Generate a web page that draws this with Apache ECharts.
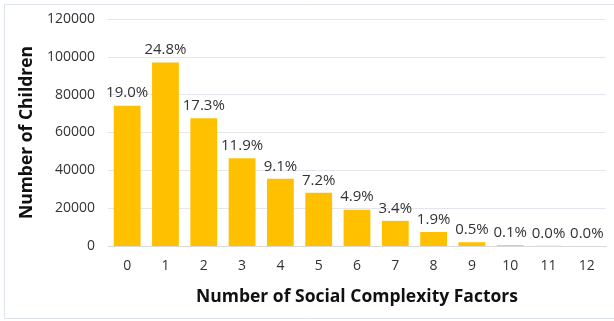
<!DOCTYPE html>
<html>
<head>
<meta charset="utf-8">
<script src="https://cdn.jsdelivr.net/npm/echarts@6/dist/echarts.min.js"></script>
<style>
  html, body { margin: 0; padding: 0; background: #fff; }
  #main { width: 614px; height: 321px; }
</style>
</head>
<body>
<div id="main"></div>
<script>
// counts of children by number of social complexity factors
var factors = ['0', '1', '2', '3', '4', '5', '6', '7', '8', '9', '10', '11', '12'];
var children = [74200, 97000, 67500, 46400, 35500, 28100, 19200, 13300, 7400, 2000, 400, 100, 30];
var shares = ['19.0%', '24.8%', '17.3%', '11.9%', '9.1%', '7.2%', '4.9%', '3.4%', '1.9%', '0.5%', '0.1%', '0.0%', '0.0%'];
var yTicks = [0, 20000, 40000, 60000, 80000, 100000, 120000];

var chart = echarts.init(document.getElementById('main'), null, { renderer: 'canvas' });

var option = {
  backgroundColor: '#ffffff',
  animation: false,
  graphic: [{
    type: 'rect',
    shape: { x: 4.5, y: 4.5, width: 620, height: 314 },
    style: { fill: 'none', stroke: '#dfe4ec', lineWidth: 1 },
    silent: true
  }],
  grid: { left: 108, right: 8, top: 19, bottom: 75, containLabel: false },
  xAxis: {
    type: 'category',
    data: factors,
    name: 'Number of Social Complexity Factors',
    nameLocation: 'middle',
    nameGap: 42,
    nameTextStyle: { fontFamily: 'Open Sans', fontWeight: 'bold', fontSize: 17.5, color: '#111' },
    axisLine: { show: true, lineStyle: { color: '#d9d9d9' } },
    axisTick: { show: false },
    axisLabel: { fontFamily: 'Open Sans', fontSize: 14, color: '#333', margin: 13 }
  },
  yAxis: {
    type: 'value',
    min: yTicks[0],
    max: yTicks[yTicks.length - 1],
    interval: 20000,
    name: 'Number of Children',
    nameLocation: 'middle',
    nameGap: 62,
    nameTextStyle: { fontFamily: 'Open Sans', fontWeight: 'bold', fontSize: 17.5, color: '#111' },
    axisLine: { show: false },
    axisTick: { show: false },
    axisLabel: {
      fontFamily: 'Open Sans', fontSize: 14, color: '#333', margin: 13,
      formatter: function (v) { return String(v); }
    },
    splitLine: { lineStyle: { color: '#e3e6ee' } }
  },
  series: [{
    type: 'bar',
    data: children,
    barCategoryGap: '30%',
    itemStyle: { color: '#ffc000' },
    label: {
      show: true,
      position: 'top',
      distance: 5,
      fontFamily: 'Open Sans',
      fontSize: 15,
      color: '#333',
      formatter: function (p) { return shares[p.dataIndex]; }
    }
  }]
};

chart.setOption(option);
</script>
</body>
</html>
